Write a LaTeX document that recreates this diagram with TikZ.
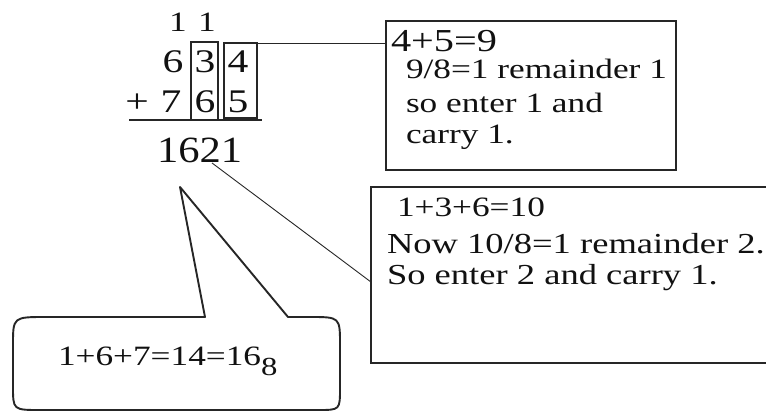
\documentclass[tikz,border=0pt]{standalone}
\usepackage{fontspec}
\setmainfont{Liberation Serif}
\newfontfamily\tfa[FakeStretch=1.26]{Liberation Serif}
\newfontfamily\tfb[FakeStretch=1.15]{Liberation Serif}
\definecolor{ink}{HTML}{111111}
\definecolor{lin}{HTML}{262626}
\begin{document}
\begin{tikzpicture}[x=1pt,y=-1pt,
  txt/.style={inner sep=0pt, outer sep=0pt, text=ink, anchor=base west, font=\tfa\fontsize{28}{34}\selectfont},
  txtb/.style={txt, font=\tfa\fontsize{29}{34}\selectfont},
  dig/.style={inner sep=0pt, outer sep=0pt, text=ink, anchor=base, font=\tfa\fontsize{33}{38}\selectfont},
  carry/.style={dig, font=\tfa\fontsize{28}{30}\selectfont},
  frame/.style={draw=lin, line width=1.6pt, inner sep=0pt, outer sep=0pt},
  cell/.style={draw=lin, line width=1.4pt, inner sep=0pt, outer sep=0pt},
  conn/.style={draw=lin, line width=0.9pt},
  bubble/.style={draw=lin, line width=1.9pt, line join=round}]
\useasboundingbox (0,0) rectangle (766,412);
\clip (0,0) rectangle (766,412);
\fill[white] (0,0) rectangle (766,412);

% column sum
\node[carry] (k1) at (178,32) {1};
\node[carry] (k2) at (207,32) {1};
\node[dig] (a1) at (173,73) {6};
\node[dig] (a2) at (205,73) {3};
\node[dig] (a3) at (238,73) {4};
\node[dig] (pl) at (137,112) {+};
\node[dig] (b1d) at (171,112) {7};
\node[dig] (b2d) at (205,112) {6};
\node[dig] (b3d) at (238,112) {5};
\node[cell, minimum width=27pt, minimum height=78pt] (c3) at (204.5,81) {};
\node[cell, minimum width=33pt, minimum height=75pt] (c4) at (240.5,80.5) {};
\coordinate (rl) at (129,120);
\coordinate (rr) at (262,120);
\draw[lin, line width=2.2pt] (rl) -- (rr);
\node[inner sep=0pt, outer sep=0pt, text=ink, anchor=base west, font=\tfb\fontsize{37}{42}\selectfont] (res) at (157,162) {1621};
\coordinate (two) at (212,163);

% box 1
\node[frame, minimum width=290pt, minimum height=149pt] (bx1) at (531,95.5) {};
\node[txt, font=\tfa\fontsize{32}{38}\selectfont] (t11) at (391,52) {4+5=9};
\node[txt] (t12) at (406,79) {9/8=1 remainder 1};
\node[txt] (t13) at (406,112) {so enter 1 and};
\node[txt] (t14) at (406,143) {carry 1.};
\draw[conn] (c4.north east) -- (c4.north east -| bx1.west);

% box 2
\node[frame, minimum width=420pt, minimum height=176pt] (bx2) at (581,275) {};
\node[txt] (t21) at (397,216) {1+3+6=10};
\node[txtb] (t22) at (387,253) {Now 10/8=1 remainder 2.};
\node[txtb] (t23) at (387,284) {So enter 2 and carry 1.};
\coordinate (e2) at (371,282);
\draw[conn] (two) -- (e2);

% speech bubble
\coordinate (tip) at (180,187);
\draw[bubble] (205,317) -- (tip) -- (288,317) -- (310,317)
  .. controls (340,317) .. (340,345) -- (340,388)
  .. controls (340,410) .. (318,410) -- (40,410)
  .. controls (13,410) .. (13,386) -- (13,345)
  .. controls (13,317) .. (46,317) -- cycle;
\node[txt] (t31) at (58,365) {1+6+7=14=16\raisebox{-10pt}{\fontsize{26}{30}\selectfont 8}};
\end{tikzpicture}
\end{document}
